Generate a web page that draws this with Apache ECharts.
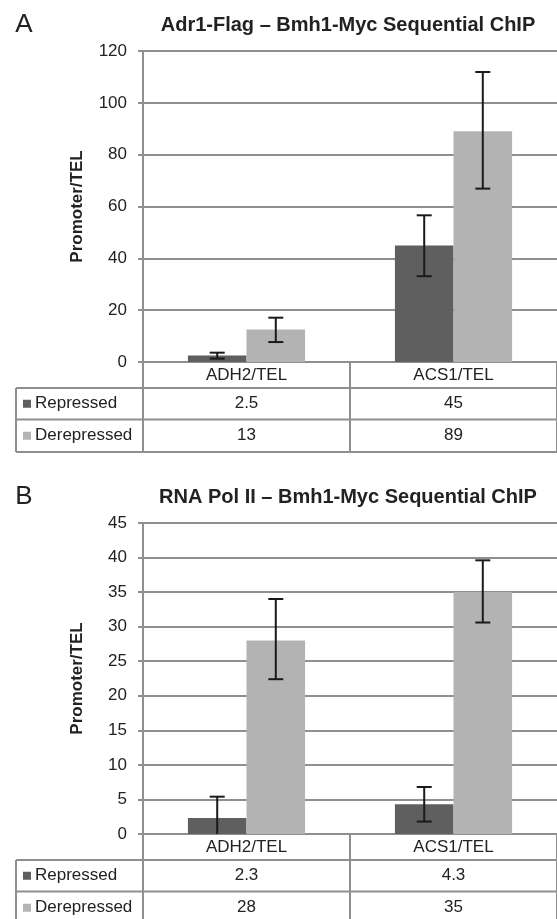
<!DOCTYPE html>
<html>
<head>
<meta charset="utf-8">
<script src="https://cdn.jsdelivr.net/npm/echarts@6/dist/echarts.min.js"></script>
<style>
  html, body { margin: 0; padding: 0; background: #fff; }
  #main { width: 557px; height: 919px; }
</style>
</head>
<body>
<div id="main"></div>
<script>
// data
const categories = ['ADH2/TEL', 'ACS1/TEL'];
const seriesNames = ['Repressed', 'Derepressed'];

const titleA = 'Adr1-Flag \u2013 Bmh1-Myc Sequential ChIP';
const aRepressed = [2.5, 45];
const aDerepressed = [12.5, 89];
const aRepressedErr = [[1.3, 3.6], [33.1, 56.6]];
const aDerepressedErr = [[7.7, 17.1], [66.9, 111.9]];
const aTableRepressed = ['2.5', '45'];
const aTableDerepressed = ['13', '89'];
const aYMax = 120;
const aYStep = 20;

const titleB = 'RNA Pol II \u2013 Bmh1-Myc Sequential ChIP';
const bRepressed = [2.3, 4.3];
const bDerepressed = [28, 35];
const bRepressedErr = [[0, 5.4], [1.8, 6.8]];
const bDerepressedErr = [[22.4, 34.0], [30.6, 39.6]];
const bTableRepressed = ['2.3', '4.3'];
const bTableDerepressed = ['28', '35'];
const bYMax = 45;
const bYStep = 5;

const panels = [
  { letter: 'A', title: titleA, rep: aRepressed, der: aDerepressed, repErr: aRepressedErr, derErr: aDerepressedErr,
    tRep: aTableRepressed, tDer: aTableDerepressed, max: aYMax, step: aYStep, top: 51 },
  { letter: 'B', title: titleB, rep: bRepressed, der: bDerepressed, repErr: bRepressedErr, derErr: bDerepressedErr,
    tRep: bTableRepressed, tDer: bTableDerepressed, max: bYMax, step: bYStep, top: 523 }
];

const FONT = '"Liberation Sans", Arial, sans-serif';
const LINE = '#8f8f8f';
const TEXT = '#222';
const colors = ['#5f5f5f', '#b3b3b3'];
const BAR_W = 0.283;

function errorBars(name, errs, idx, shift) {
  return {
    type: 'custom',
    name: name,
    xAxisIndex: idx,
    yAxisIndex: idx,
    z: 10,
    data: errs.map((e, i) => [i, e[0], e[1]]),
    encode: { x: 0, y: [1, 2] },
    renderItem(params, api) {
      const band = api.size([1, 0])[0];
      const hi = api.coord([api.value(0), api.value(2)]);
      const lo = api.coord([api.value(0), api.value(1)]);
      const x = hi[0] + shift * band;
      const cap = 7.5;
      const style = { stroke: '#1a1a1a', lineWidth: 2 };
      const kids = [
        { type: 'line', shape: { x1: x, y1: hi[1], x2: x, y2: lo[1] }, style: style },
        { type: 'line', shape: { x1: x - cap, y1: hi[1], x2: x + cap, y2: hi[1] }, style: style }
      ];
      if (api.value(1) > 0) {
        kids.push({ type: 'line', shape: { x1: x - cap, y1: lo[1], x2: x + cap, y2: lo[1] }, style: style });
      }
      return { type: 'group', children: kids };
    }
  };
}

const grids = [], xAxes = [], yAxes = [], series = [];
panels.forEach((p, i) => {
  grids.push({ left: 143, right: -1, top: p.top, height: 311 });
  xAxes.push({
    type: 'category',
    gridIndex: i,
    data: categories,
    axisLine: { lineStyle: { color: LINE, width: 2 } },
    axisTick: { show: true, length: 90, lineStyle: { color: LINE, width: 2 } },
    axisLabel: { color: TEXT, fontFamily: FONT, fontSize: 17, margin: 5 }
  });
  yAxes.push({
    type: 'value',
    gridIndex: i,
    min: 0,
    max: p.max,
    interval: p.step,
    name: 'Promoter/TEL',
    nameLocation: 'middle',
    nameRotate: 90,
    nameGap: 57,
    nameTextStyle: { color: TEXT, fontFamily: FONT, fontSize: 17, fontWeight: 'bold' },
    axisLine: { show: true, lineStyle: { color: LINE, width: 2 } },
    axisTick: { show: true, length: 5, lineStyle: { color: LINE, width: 2 } },
    axisLabel: { color: TEXT, fontFamily: FONT, fontSize: 17, margin: 16 },
    splitLine: { lineStyle: { color: LINE, width: 2 } }
  });
  series.push({
    type: 'bar', name: seriesNames[0], xAxisIndex: i, yAxisIndex: i,
    data: p.rep, barWidth: (BAR_W * 100) + '%', barGap: '0%',
    itemStyle: { color: colors[0] }
  });
  series.push({
    type: 'bar', name: seriesNames[1], xAxisIndex: i, yAxisIndex: i,
    data: p.der, barWidth: (BAR_W * 100) + '%', barGap: '0%',
    itemStyle: { color: colors[1] }
  });
  series.push(errorBars(seriesNames[0], p.repErr, i, -BAR_W / 2));
  series.push(errorBars(seriesNames[1], p.derErr, i, BAR_W / 2));
});

const myChart = echarts.init(document.getElementById('main'));
myChart.setOption({
  animation: false,
  backgroundColor: '#fff',
  grid: grids,
  xAxis: xAxes,
  yAxis: yAxes,
  series: series
});

// table rows, titles and panel letters placed from the axes
const graphics = [];
const W = myChart.getWidth();
panels.forEach((p, i) => {
  const y0 = myChart.convertToPixel({ yAxisIndex: i }, 0);
  const yTop = myChart.convertToPixel({ yAxisIndex: i }, p.max);
  const x0 = myChart.convertToPixel({ xAxisIndex: i }, categories[0]);
  const x1 = myChart.convertToPixel({ xAxisIndex: i }, categories[1]);
  const left = x0 - (x1 - x0) / 2;
  const rows = [y0 + 26, y0 + 57.5, y0 + 90];
  rows.forEach((y) => {
    graphics.push({ type: 'line', shape: { x1: 16, y1: y, x2: W, y2: y }, style: { stroke: LINE, lineWidth: 2 } });
  });
  graphics.push({ type: 'line', shape: { x1: 16, y1: rows[0], x2: 16, y2: rows[2] }, style: { stroke: LINE, lineWidth: 2 } });
  const tableVals = [p.tRep, p.tDer];
  [0, 1].forEach((r) => {
    const cy = (rows[r] + rows[r + 1]) / 2;
    graphics.push({ type: 'rect', shape: { x: 23, y: cy - 4, width: 8, height: 8 }, style: { fill: colors[r] } });
    graphics.push({ type: 'text', x: 35, y: cy, style: { text: seriesNames[r], fill: TEXT, font: '17px ' + FONT, textVerticalAlign: 'middle' } });
    categories.forEach((c, k) => {
      graphics.push({
        type: 'text', x: myChart.convertToPixel({ xAxisIndex: i }, c), y: cy,
        style: { text: tableVals[r][k], fill: TEXT, font: '17px ' + FONT, textAlign: 'center', textVerticalAlign: 'middle' }
      });
    });
  });
  graphics.push({
    type: 'text', x: (left + W) / 2 - 2, y: yTop - 26,
    style: { text: p.title, fill: TEXT, font: 'bold 20px ' + FONT, textAlign: 'center', textVerticalAlign: 'middle' }
  });
  graphics.push({
    type: 'text', x: 24, y: yTop - 26,
    style: { text: p.letter, fill: TEXT, font: '26px ' + FONT, textAlign: 'center', textVerticalAlign: 'middle' }
  });
});
myChart.setOption({ graphic: graphics });
</script>
</body>
</html>
